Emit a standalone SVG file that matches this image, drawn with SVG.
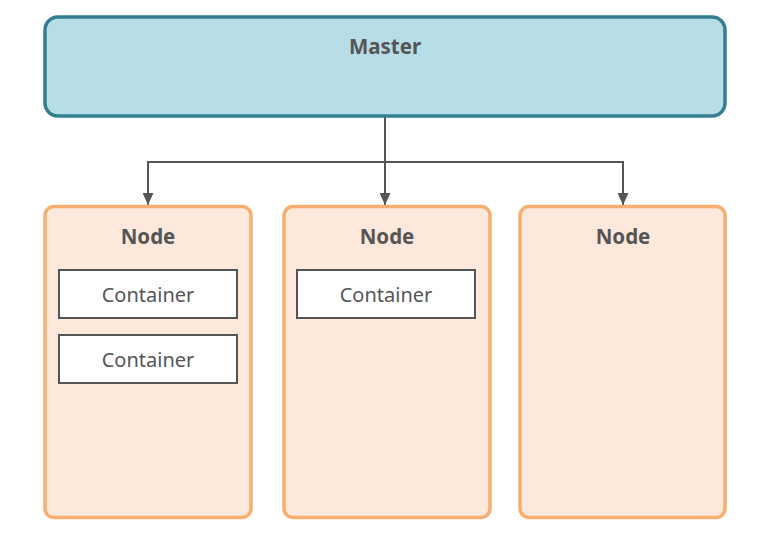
<svg xmlns="http://www.w3.org/2000/svg" width="759" height="539" viewBox="0 0 759 539">
  <style>
    .master { fill: #b7dde7; stroke: #337e8f; stroke-width: 3.5; }
    .node { fill: #fce9db; stroke: #f8ae6f; stroke-width: 3.5; }
    .container { fill: #ffffff; stroke: #555555; stroke-width: 2; }
    .title { font-family: "Noto Sans", "Open Sans", "Liberation Sans", sans-serif; font-weight: bold; font-size: 20.5px; fill: #555555; text-anchor: middle; }
    .label { font-family: "Noto Sans", "Open Sans", "Liberation Sans", sans-serif; font-size: 20px; fill: #555555; text-anchor: middle; }
    .link { fill: none; stroke: #555555; stroke-width: 2; }
  </style>
  <defs>
    <marker id="arrow" viewBox="0 0 12 11" refX="12" refY="5.5" markerWidth="12" markerHeight="11" markerUnits="userSpaceOnUse" orient="auto">
      <path d="M0,0 L12,5.5 L0,11 z" fill="#555555"/>
    </marker>
  </defs>

  <g id="connectors">
    <path class="link" d="M385,117 V205" stroke-width="2.5" marker-end="url(#arrow)"/>
    <path class="link" d="M385,162 H148 V205" marker-end="url(#arrow)"/>
    <path class="link" d="M385,162 H623 V205" marker-end="url(#arrow)"/>
  </g>

  <g id="master">
    <rect class="master" x="45" y="17" width="680" height="99" rx="13"/>
    <text class="title" x="385" y="54">Master</text>
  </g>

  <g id="node-1">
    <rect class="node" x="45" y="206.5" width="206" height="311" rx="9"/>
    <text class="title" x="148" y="244">Node</text>
    <g id="container-1a">
      <rect class="container" x="59" y="270" width="178" height="48"/>
      <text class="label" x="148" y="302">Container</text>
    </g>
    <g id="container-1b">
      <rect class="container" x="59" y="335" width="178" height="48"/>
      <text class="label" x="148" y="367">Container</text>
    </g>
  </g>

  <g id="node-2">
    <rect class="node" x="284" y="206.5" width="206" height="311" rx="9"/>
    <text class="title" x="387" y="244">Node</text>
    <g id="container-2a">
      <rect class="container" x="297" y="270" width="178" height="48"/>
      <text class="label" x="386" y="302">Container</text>
    </g>
  </g>

  <g id="node-3">
    <rect class="node" x="520" y="206.5" width="205" height="311" rx="9"/>
    <text class="title" x="623" y="244">Node</text>
  </g>
</svg>
